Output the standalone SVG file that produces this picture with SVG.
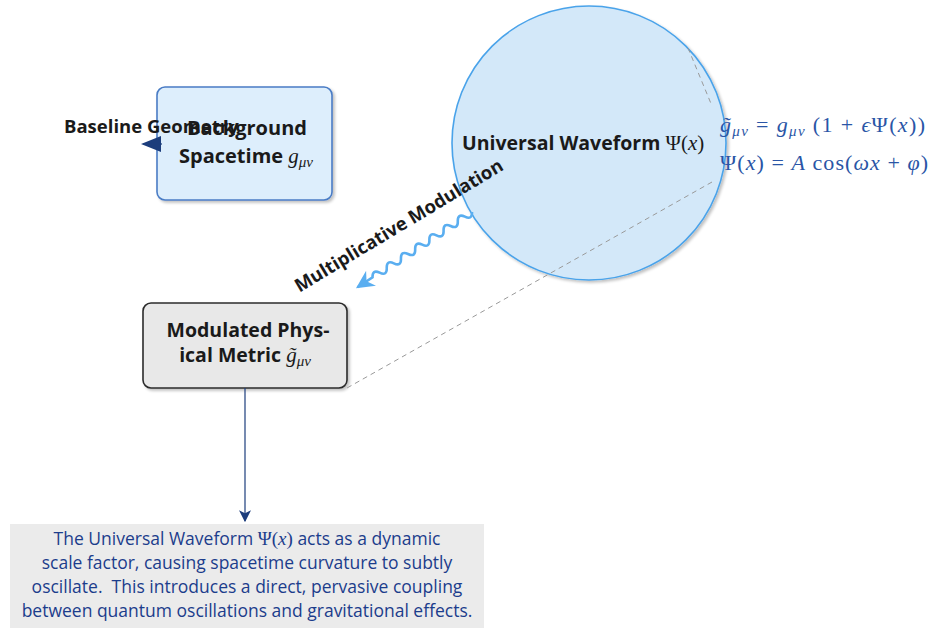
<svg xmlns="http://www.w3.org/2000/svg" width="939" height="628" viewBox="0 0 939 628">
<defs>
<style>
.sans{font-family:"Open Sans","Liberation Sans",sans-serif}
.b{font-weight:bold;fill:#1a1a1a}
.m{font-family:"Liberation Serif",serif;font-style:italic}
.r{font-family:"Liberation Serif",serif;font-style:normal}
.eq{fill:#2a55a6;font-size:22px}
.note{fill:#1c3d8c;font-size:17.5px}
.dash{stroke:#9a9a9a;stroke-width:1;stroke-dasharray:5,4;fill:none}
</style>
<marker id="navy" viewBox="0 0 10 10" refX="9" refY="5" markerWidth="12" markerHeight="12" markerUnits="userSpaceOnUse" orient="auto">
<path d="M0,0 L10,5 L0,10 L2.5,5 Z" fill="#1c3d7c"/>
</marker>
<marker id="navyBig" viewBox="0 0 10 10" refX="9" refY="5" markerWidth="20" markerHeight="20" markerUnits="userSpaceOnUse" orient="auto">
<path d="M0,1 L10,5 L0,9 Z" fill="#1c3d7c"/>
</marker>
<marker id="blue" viewBox="0 0 10 10" refX="9" refY="5" markerWidth="18" markerHeight="18" markerUnits="userSpaceOnUse" orient="auto">
<path d="M0,0 L10,5 L0,10 L3,5 Z" fill="#5aaef0"/>
</marker>
<filter id="sh" x="-10%" y="-10%" width="130%" height="130%">
<feGaussianBlur in="SourceAlpha" stdDeviation="1.5"/>
<feOffset dx="2" dy="2" result="o"/>
<feComponentTransfer><feFuncA type="linear" slope="0.25"/></feComponentTransfer>
<feMerge><feMergeNode/><feMergeNode in="SourceGraphic"/></feMerge>
</filter>
</defs>

<g id="waveform">
<circle cx="589" cy="143" r="137" fill="#d3e8f9" stroke="#4aa3ea" stroke-width="1.6" filter="url(#sh)"/>
<text x="462" y="150" font-size="19.5" class="sans b">Universal Waveform <tspan class="r" font-weight="normal" font-size="21">Ψ(</tspan><tspan class="m" font-weight="normal" font-size="21">x</tspan><tspan class="r" font-weight="normal" font-size="21">)</tspan></text>
</g>

<g id="background">
<rect x="157" y="87" width="175" height="113" rx="8" fill="#ddeefc" stroke="#4a7cc5" stroke-width="1.6" filter="url(#sh)"/>
<text x="247" y="135" text-anchor="middle" font-size="20" class="sans b">Background</text>
<text x="246" y="163" text-anchor="middle" font-size="20" class="sans b">Spacetime <tspan class="m" font-weight="normal" font-size="21">g</tspan><tspan class="m" font-weight="normal" font-size="15" dy="4">μν</tspan></text>
</g>

<g id="modulated">
<rect x="143" y="303" width="204" height="85" rx="8" fill="#e8e8e8" stroke="#2b2b2b" stroke-width="1.6" filter="url(#sh)"/>
<text x="248" y="337" text-anchor="middle" font-size="19.5" class="sans b">Modulated Phys-</text>
<text x="245" y="362" text-anchor="middle" font-size="19.5" class="sans b">ical Metric <tspan class="m" font-weight="normal" font-size="21">g̃</tspan><tspan class="m" font-weight="normal" font-size="15" dy="4">μν</tspan></text>
</g>

<g id="equations">
<text x="720" y="132" class="eq" textLength="205" lengthAdjust="spacing"><tspan class="m">g̃</tspan><tspan class="m" font-size="15" dy="4">μν</tspan><tspan class="r" dy="-4"> = </tspan><tspan class="m">g</tspan><tspan class="m" font-size="15" dy="4">μν</tspan><tspan class="r" dy="-4"> (1 + </tspan><tspan class="m">ϵ</tspan><tspan class="r">Ψ(</tspan><tspan class="m">x</tspan><tspan class="r">))</tspan></text>
<text x="720" y="170" class="eq" textLength="208" lengthAdjust="spacing"><tspan class="r">Ψ(</tspan><tspan class="m">x</tspan><tspan class="r">) = </tspan><tspan class="m">A</tspan><tspan class="r"> cos(</tspan><tspan class="m">ωx</tspan><tspan class="r"> + </tspan><tspan class="m">φ</tspan><tspan class="r">)</tspan></text>
</g>

<g id="note">
<rect x="10" y="524" width="474" height="104" fill="#ebebeb"/>
<text x="247" y="545" text-anchor="middle" class="sans note">The Universal Waveform <tspan class="r" font-size="19">Ψ(</tspan><tspan class="m" font-size="19">x</tspan><tspan class="r" font-size="19">)</tspan> acts as a dynamic</text>
<text x="247" y="569" text-anchor="middle" class="sans note">scale factor, causing spacetime curvature to subtly</text>
<text x="247" y="593" text-anchor="middle" class="sans note" xml:space="preserve">oscillate.  This introduces a direct, pervasive coupling</text>
<text x="247" y="617" text-anchor="middle" class="sans note">between quantum oscillations and gravitational effects.</text>
</g>

<g id="connectors">
<line class="dash" x1="688" y1="48" x2="712" y2="106"/>
<line class="dash" x1="712" y1="182" x2="347" y2="388"/>
<line x1="162" y1="144" x2="143" y2="144" stroke="#1c3d7c" stroke-width="1.2" marker-end="url(#navyBig)"/>
<line x1="245" y1="388" x2="245" y2="521" stroke="#1c3d7c" stroke-width="1.2" marker-end="url(#navy)"/>
<g transform="translate(472,212) rotate(146.7)">
<path d="M0,0 q4.25,-7 8.5,0 t8.5,0 t8.5,0 t8.5,0 t8.5,0 t8.5,0 t8.5,0 t8.5,0 t8.5,0 t8.5,0 t8.5,0 t8.5,0 t8.5,0 t8.5,0 L137,0" fill="none" stroke="#5aaef0" stroke-width="2.6" marker-end="url(#blue)"/>
</g>
<text transform="translate(402,231) rotate(-31)" text-anchor="middle" font-size="18.5" class="sans b">Multiplicative Modulation</text>
<text x="64" y="133" font-size="18.5" class="sans b">Baseline Geometry</text>
</g>
</svg>
